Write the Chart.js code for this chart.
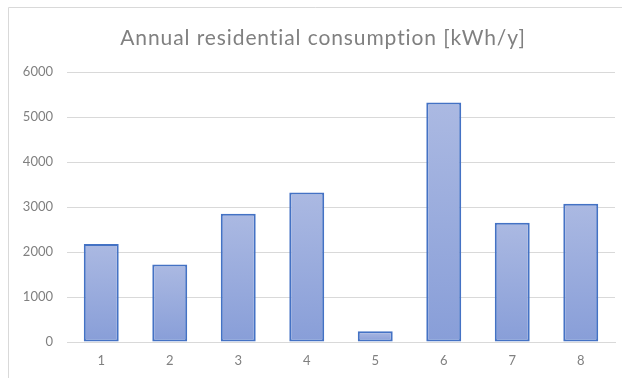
<!DOCTYPE html>
<html>
<head>
<meta charset="utf-8">
<script src="https://cdn.jsdelivr.net/npm/chart.js@4.4.1/dist/chart.umd.min.js"></script>
<style>
  html, body { margin: 0; padding: 0; background: #ffffff; }
  #wrap { position: relative; width: 622px; height: 378px; }
  canvas { display: block; }
</style>
</head>
<body>
<div id="wrap"><canvas id="chart" width="622" height="378"></canvas></div>
<script>
// Household identifiers and their yearly electricity use
const households = ['1', '2', '3', '4', '5', '6', '7', '8'];
const consumption = [2180, 1720, 2850, 3320, 240, 5320, 2650, 3075];
const yTicks = [0, 1000, 2000, 3000, 4000, 5000, 6000];
const chartTitle = 'Annual residential consumption [kWh/y]';

const FONT = 'Lato, "Open Sans", "Liberation Sans", sans-serif';
const TEXT_GREY = '#808080';

// Vertical gradient for each bar, lighter at the top and deeper at the base
function barGradient(ctx) {
  const chart = ctx.chart;
  const area = chart.chartArea;
  if (!area || ctx.dataIndex === undefined) return '#9aaedd';
  const yScale = chart.scales.y;
  const top = yScale.getPixelForValue(ctx.raw);
  const base = yScale.getPixelForValue(0);
  const g = chart.ctx.createLinearGradient(0, top, 0, base);
  g.addColorStop(0, 'rgb(171,185,226)');
  g.addColorStop(1, 'rgb(136,158,216)');
  return g;
}

// Thin outline of the chart frame (top and left edges)
const frame = {
  id: 'frame',
  beforeDraw(chart) {
    const c = chart.ctx;
    c.save();
    c.strokeStyle = '#d9d9d9';
    c.lineWidth = 1;
    c.beginPath();
    c.moveTo(8.5, chart.height);
    c.lineTo(8.5, 7.5);
    c.lineTo(chart.width, 7.5);
    c.stroke();
    c.restore();
  }
};

// Spaced-out heading centred over the plot
const heading = {
  id: 'heading',
  afterDraw(chart) {
    const c = chart.ctx;
    c.save();
    c.font = '21px ' + FONT;
    c.fillStyle = TEXT_GREY;
    c.textBaseline = 'middle';
    c.textAlign = 'center';
    if ('letterSpacing' in c) c.letterSpacing = '0.9px';
    c.fillText(chartTitle, 323, 38);
    c.restore();
  }
};

new Chart(document.getElementById('chart'), {
  type: 'bar',
  data: {
    labels: households,
    datasets: [{
      data: consumption,
      backgroundColor: barGradient,
      borderColor: '#4472c4',
      borderWidth: 2,
      borderSkipped: false,
      categoryPercentage: 1,
      barPercentage: 0.51
    }]
  },
  options: {
    responsive: false,
    animation: false,
    devicePixelRatio: 1,
    layout: { padding: { left: 0, right: 7, top: 72, bottom: 0 } },
    plugins: {
      legend: { display: false },
      tooltip: { enabled: false },
      title: { display: false }
    },
    scales: {
      x: {
        afterFit(scale) { scale.height = 36; },
        grid: { display: false, drawTicks: false },
        border: { display: true, color: '#d9d9d9', width: 1 },
        ticks: {
          color: TEXT_GREY,
          font: { family: FONT, size: 13 },
          padding: 11
        }
      },
      y: {
        min: 0,
        max: 6000,
        afterBuildTicks(scale) {
          scale.ticks = yTicks.map(v => ({ value: v }));
        },
        afterFit(scale) { scale.width = 67; },
        grid: { color: '#d9d9d9', lineWidth: 1, drawTicks: false },
        border: { display: false },
        ticks: {
          color: TEXT_GREY,
          font: { family: FONT, size: 13 },
          padding: 14,
          callback: v => String(v)
        }
      }
    }
  },
  plugins: [frame, heading]
});
</script>
</body>
</html>
